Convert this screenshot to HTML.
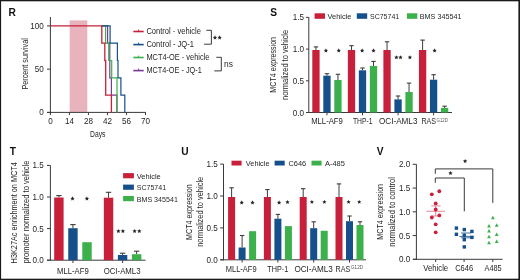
<!DOCTYPE html>
<html><head><meta charset="utf-8"><style>
html,body{margin:0;padding:0;background:#fff;width:520px;height:280px;overflow:hidden}
svg{display:block;will-change:transform}
text{font-family:"Liberation Sans",sans-serif}
</style></head><body>
<svg width="520" height="280" viewBox="0 0 520 280">
<rect width="520" height="280" fill="#fff"/>
<text x="8.6" y="16" font-size="10.2" fill="#111" text-anchor="start" font-weight="bold">R</text>
<rect x="69.70" y="20.40" width="17.60" height="92.00" fill="#e8b3bd"/>
<line x1="50.4" y1="17" x2="50.4" y2="112.9" stroke="#3a3a3a" stroke-width="1"/>
<line x1="47" y1="112.4" x2="145.9" y2="112.4" stroke="#3a3a3a" stroke-width="1"/>
<line x1="47" y1="112.4" x2="50.4" y2="112.4" stroke="#3a3a3a" stroke-width="1"/>
<text x="43.8" y="115.4" font-size="8.2" fill="#262626" text-anchor="end" textLength="4.51" lengthAdjust="spacingAndGlyphs">0</text>
<line x1="47" y1="69.15" x2="50.4" y2="69.15" stroke="#3a3a3a" stroke-width="1"/>
<text x="43.8" y="72.15" font-size="8.2" fill="#262626" text-anchor="end" textLength="9.02" lengthAdjust="spacingAndGlyphs">50</text>
<line x1="47" y1="25.900000000000006" x2="50.4" y2="25.900000000000006" stroke="#3a3a3a" stroke-width="1"/>
<text x="43.8" y="28.900000000000006" font-size="8.2" fill="#262626" text-anchor="end" textLength="13.53" lengthAdjust="spacingAndGlyphs">100</text>
<line x1="50.4" y1="112.4" x2="50.4" y2="115.1" stroke="#3a3a3a" stroke-width="1"/>
<text x="50.4" y="124.3" font-size="8.2" fill="#262626" text-anchor="middle" textLength="4.51" lengthAdjust="spacingAndGlyphs">0</text>
<line x1="69.42" y1="112.4" x2="69.42" y2="115.1" stroke="#3a3a3a" stroke-width="1"/>
<text x="69.42" y="124.3" font-size="8.2" fill="#262626" text-anchor="middle" textLength="9.02" lengthAdjust="spacingAndGlyphs">14</text>
<line x1="88.44" y1="112.4" x2="88.44" y2="115.1" stroke="#3a3a3a" stroke-width="1"/>
<text x="88.44" y="124.3" font-size="8.2" fill="#262626" text-anchor="middle" textLength="9.02" lengthAdjust="spacingAndGlyphs">28</text>
<line x1="107.46" y1="112.4" x2="107.46" y2="115.1" stroke="#3a3a3a" stroke-width="1"/>
<text x="107.46" y="124.3" font-size="8.2" fill="#262626" text-anchor="middle" textLength="9.02" lengthAdjust="spacingAndGlyphs">42</text>
<line x1="126.47999999999999" y1="112.4" x2="126.47999999999999" y2="115.1" stroke="#3a3a3a" stroke-width="1"/>
<text x="126.47999999999999" y="124.3" font-size="8.2" fill="#262626" text-anchor="middle" textLength="9.02" lengthAdjust="spacingAndGlyphs">56</text>
<line x1="145.5" y1="112.4" x2="145.5" y2="115.1" stroke="#3a3a3a" stroke-width="1"/>
<text x="145.5" y="124.3" font-size="8.2" fill="#262626" text-anchor="middle" textLength="9.02" lengthAdjust="spacingAndGlyphs">70</text>
<text x="97.8" y="137.4" font-size="8.9" fill="#262626" text-anchor="middle" textLength="15.4" lengthAdjust="spacingAndGlyphs">Days</text>
<text x="27.9" y="63.9" font-size="8.2" fill="#262626" text-anchor="middle" textLength="51.4" lengthAdjust="spacingAndGlyphs" transform="rotate(-90 27.9 63.9)">Percent survival</text>
<path d="M101.8,25.900000000000006 H107.6 V43.2 H109.8 V77.80000000000001 H111.4 V95.10000000000001 H116.9 V112.4" stroke="#7a3a96" stroke-width="1.2" fill="none"/>
<path d="M101.8,25.900000000000006 H105.6 V43.2 H108.7 V60.50000000000001 H111.7 V77.80000000000001 H117 V112.4" stroke="#3bb04b" stroke-width="1.2" fill="none"/>
<path d="M101.8,25.900000000000006 H110.1 V43.2 H117.4 V60.50000000000001 H118 V77.80000000000001 H120.9 V95.10000000000001 H124.8 V112.4" stroke="#15508a" stroke-width="1.2" fill="none"/>
<path d="M50.4,25.900000000000006 H101.8 V43.2 H104.8 V60.50000000000001 H105.7 V95.10000000000001 H111.4 V112.4" stroke="#c8203a" stroke-width="1.3" fill="none"/>
<line x1="133.3" y1="31.5" x2="143.7" y2="31.5" stroke="#c8203a" stroke-width="1.6"/>
<line x1="138.6" y1="29.6" x2="138.6" y2="31.5" stroke="#c8203a" stroke-width="1"/>
<text x="146.4" y="33.8" font-size="8.2" fill="#262626" text-anchor="start" textLength="54.5" lengthAdjust="spacingAndGlyphs">Control - vehicle</text>
<line x1="133.3" y1="44.6" x2="143.7" y2="44.6" stroke="#15508a" stroke-width="1.6"/>
<line x1="138.6" y1="42.7" x2="138.6" y2="44.6" stroke="#15508a" stroke-width="1"/>
<text x="146.4" y="46.9" font-size="8.2" fill="#262626" text-anchor="start" textLength="47.6" lengthAdjust="spacingAndGlyphs">Control - JQ-1</text>
<line x1="133.3" y1="57.5" x2="143.7" y2="57.5" stroke="#3bb04b" stroke-width="1.6"/>
<line x1="138.6" y1="55.6" x2="138.6" y2="57.5" stroke="#3bb04b" stroke-width="1"/>
<text x="146.4" y="59.8" font-size="8.2" fill="#262626" text-anchor="start" textLength="63" lengthAdjust="spacingAndGlyphs">MCT4-OE - vehicle</text>
<line x1="133.3" y1="70.6" x2="143.7" y2="70.6" stroke="#7a3a96" stroke-width="1.6"/>
<line x1="138.6" y1="68.69999999999999" x2="138.6" y2="70.6" stroke="#7a3a96" stroke-width="1"/>
<text x="146.4" y="72.89999999999999" font-size="8.2" fill="#262626" text-anchor="start" textLength="55.4" lengthAdjust="spacingAndGlyphs">MCT4-OE - JQ-1</text>
<path d="M206.4,30.3 H211.4 V44.2 H204.1" stroke="#3a3a3a" stroke-width="1" fill="none"/>
<polygon points="215.00,35.35 215.62,36.75 217.14,36.90 216.00,37.92 216.32,39.42 215.00,38.65 213.68,39.42 214.00,37.92 212.86,36.90 214.38,36.75" fill="#262626"/>
<polygon points="219.60,35.35 220.22,36.75 221.74,36.90 220.60,37.92 220.92,39.42 219.60,38.65 218.28,39.42 218.60,37.92 217.46,36.90 218.98,36.75" fill="#262626"/>
<path d="M216.3,57.3 H221.3 V70.9 H214.3" stroke="#3a3a3a" stroke-width="1" fill="none"/>
<text x="224" y="66.7" font-size="8.8" fill="#262626" text-anchor="start" textLength="8.9" lengthAdjust="spacingAndGlyphs">ns</text>
<text x="270.3" y="16" font-size="10.2" fill="#111" text-anchor="start" font-weight="bold">S</text>
<line x1="308.8" y1="17.1" x2="308.8" y2="113" stroke="#3a3a3a" stroke-width="1"/>
<line x1="306.2" y1="112.5" x2="452" y2="112.5" stroke="#3a3a3a" stroke-width="1"/>
<line x1="306" y1="112.5" x2="308.8" y2="112.5" stroke="#3a3a3a" stroke-width="1"/>
<text x="304.1" y="115.55" font-size="8.3" fill="#262626" text-anchor="end" textLength="11.29" lengthAdjust="spacingAndGlyphs">0.0</text>
<line x1="306" y1="80.8" x2="308.8" y2="80.8" stroke="#3a3a3a" stroke-width="1"/>
<text x="304.1" y="83.85" font-size="8.3" fill="#262626" text-anchor="end" textLength="11.29" lengthAdjust="spacingAndGlyphs">0.5</text>
<line x1="306" y1="49.1" x2="308.8" y2="49.1" stroke="#3a3a3a" stroke-width="1"/>
<text x="304.1" y="52.15" font-size="8.3" fill="#262626" text-anchor="end" textLength="11.29" lengthAdjust="spacingAndGlyphs">1.0</text>
<line x1="306" y1="17.400000000000006" x2="308.8" y2="17.400000000000006" stroke="#3a3a3a" stroke-width="1"/>
<text x="304.1" y="20.450000000000006" font-size="8.3" fill="#262626" text-anchor="end" textLength="11.29" lengthAdjust="spacingAndGlyphs">1.5</text>
<line x1="326.95" y1="112.5" x2="326.95" y2="115.3" stroke="#3a3a3a" stroke-width="1"/>
<line x1="315.95" y1="50" x2="315.95" y2="46.9" stroke="#3c3c3c" stroke-width="1"/>
<line x1="313.75" y1="46.9" x2="318.15" y2="46.9" stroke="#3c3c3c" stroke-width="1.1"/>
<rect x="312.30" y="50.00" width="7.30" height="62.50" fill="#c8203a"/>
<line x1="326.95" y1="75.7" x2="326.95" y2="73.7" stroke="#3c3c3c" stroke-width="1"/>
<line x1="324.75" y1="73.7" x2="329.15" y2="73.7" stroke="#3c3c3c" stroke-width="1.1"/>
<rect x="323.30" y="75.70" width="7.30" height="36.80" fill="#15508a"/>
<line x1="337.95" y1="80" x2="337.95" y2="74.3" stroke="#3c3c3c" stroke-width="1"/>
<line x1="335.75" y1="74.3" x2="340.15" y2="74.3" stroke="#3c3c3c" stroke-width="1.1"/>
<rect x="334.30" y="80.00" width="7.30" height="32.50" fill="#3bb04b"/>
<line x1="362.5" y1="112.5" x2="362.5" y2="115.3" stroke="#3a3a3a" stroke-width="1"/>
<line x1="351.5" y1="50" x2="351.5" y2="45.7" stroke="#3c3c3c" stroke-width="1"/>
<line x1="349.3" y1="45.7" x2="353.7" y2="45.7" stroke="#3c3c3c" stroke-width="1.1"/>
<rect x="347.85" y="50.00" width="7.30" height="62.50" fill="#c8203a"/>
<line x1="362.5" y1="70.3" x2="362.5" y2="68" stroke="#3c3c3c" stroke-width="1"/>
<line x1="360.3" y1="68" x2="364.7" y2="68" stroke="#3c3c3c" stroke-width="1.1"/>
<rect x="358.85" y="70.30" width="7.30" height="42.20" fill="#15508a"/>
<line x1="373.5" y1="66" x2="373.5" y2="61.4" stroke="#3c3c3c" stroke-width="1"/>
<line x1="371.3" y1="61.4" x2="375.7" y2="61.4" stroke="#3c3c3c" stroke-width="1.1"/>
<rect x="369.85" y="66.00" width="7.30" height="46.50" fill="#3bb04b"/>
<line x1="398.05" y1="112.5" x2="398.05" y2="115.3" stroke="#3a3a3a" stroke-width="1"/>
<line x1="387.05" y1="50" x2="387.05" y2="41.8" stroke="#3c3c3c" stroke-width="1"/>
<line x1="384.85" y1="41.8" x2="389.25" y2="41.8" stroke="#3c3c3c" stroke-width="1.1"/>
<rect x="383.40" y="50.00" width="7.30" height="62.50" fill="#c8203a"/>
<line x1="398.05" y1="99.4" x2="398.05" y2="96" stroke="#3c3c3c" stroke-width="1"/>
<line x1="395.85" y1="96" x2="400.25" y2="96" stroke="#3c3c3c" stroke-width="1.1"/>
<rect x="394.40" y="99.40" width="7.30" height="13.10" fill="#15508a"/>
<line x1="409.05" y1="92" x2="409.05" y2="83.1" stroke="#3c3c3c" stroke-width="1"/>
<line x1="406.85" y1="83.1" x2="411.25" y2="83.1" stroke="#3c3c3c" stroke-width="1.1"/>
<rect x="405.40" y="92.00" width="7.30" height="20.50" fill="#3bb04b"/>
<line x1="433.6" y1="112.5" x2="433.6" y2="115.3" stroke="#3a3a3a" stroke-width="1"/>
<line x1="422.6" y1="50" x2="422.6" y2="40.1" stroke="#3c3c3c" stroke-width="1"/>
<line x1="420.40000000000003" y1="40.1" x2="424.8" y2="40.1" stroke="#3c3c3c" stroke-width="1.1"/>
<rect x="418.95" y="50.00" width="7.30" height="62.50" fill="#c8203a"/>
<line x1="433.6" y1="79.7" x2="433.6" y2="74.7" stroke="#3c3c3c" stroke-width="1"/>
<line x1="431.40000000000003" y1="74.7" x2="435.8" y2="74.7" stroke="#3c3c3c" stroke-width="1.1"/>
<rect x="429.95" y="79.70" width="7.30" height="32.80" fill="#15508a"/>
<line x1="444.6" y1="107.9" x2="444.6" y2="106.2" stroke="#3c3c3c" stroke-width="1"/>
<line x1="442.40000000000003" y1="106.2" x2="446.8" y2="106.2" stroke="#3c3c3c" stroke-width="1.1"/>
<rect x="440.95" y="107.90" width="7.30" height="4.60" fill="#3bb04b"/>
<polygon points="325.90,48.35 326.52,49.75 328.04,49.90 326.90,50.92 327.22,52.42 325.90,51.65 324.58,52.42 324.90,50.92 323.76,49.90 325.28,49.75" fill="#262626"/>
<polygon points="338.75,48.35 339.37,49.75 340.89,49.90 339.75,50.92 340.07,52.42 338.75,51.65 337.43,52.42 337.75,50.92 336.61,49.90 338.13,49.75" fill="#262626"/>
<polygon points="362.15,48.35 362.77,49.75 364.29,49.90 363.15,50.92 363.47,52.42 362.15,51.65 360.83,52.42 361.15,50.92 360.01,49.90 361.53,49.75" fill="#262626"/>
<polygon points="373.50,48.35 374.12,49.75 375.64,49.90 374.50,50.92 374.82,52.42 373.50,51.65 372.18,52.42 372.50,50.92 371.36,49.90 372.88,49.75" fill="#262626"/>
<polygon points="396.40,55.15 397.02,56.55 398.54,56.70 397.40,57.72 397.72,59.22 396.40,58.45 395.08,59.22 395.40,57.72 394.26,56.70 395.78,56.55" fill="#262626"/>
<polygon points="400.50,55.15 401.12,56.55 402.64,56.70 401.50,57.72 401.82,59.22 400.50,58.45 399.18,59.22 399.50,57.72 398.36,56.70 399.88,56.55" fill="#262626"/>
<polygon points="409.90,55.15 410.52,56.55 412.04,56.70 410.90,57.72 411.22,59.22 409.90,58.45 408.58,59.22 408.90,57.72 407.76,56.70 409.28,56.55" fill="#262626"/>
<polygon points="434.60,48.35 435.22,49.75 436.74,49.90 435.60,50.92 435.92,52.42 434.60,51.65 433.28,52.42 433.60,50.92 432.46,49.90 433.98,49.75" fill="#262626"/>
<text x="327.0" y="124.4" font-size="8.2" fill="#262626" text-anchor="middle" textLength="31.7" lengthAdjust="spacingAndGlyphs">MLL-AF9</text>
<text x="362.7" y="124.4" font-size="8.2" fill="#262626" text-anchor="middle" textLength="19.5" lengthAdjust="spacingAndGlyphs">THP-1</text>
<text x="398.2" y="124.4" font-size="8.2" fill="#262626" text-anchor="middle" textLength="38.4" lengthAdjust="spacingAndGlyphs">OCI-AML3</text>
<text x="421.4" y="124.4" font-size="8.2" fill="#262626" text-anchor="start" textLength="14.6" lengthAdjust="spacingAndGlyphs">RAS</text>
<text x="436.6" y="121.8" font-size="4.9" fill="#555" text-anchor="start" textLength="11.3" lengthAdjust="spacingAndGlyphs">G12D</text>
<rect x="314.60" y="13.30" width="10.40" height="5.50" fill="#c8203a"/>
<text x="327.5" y="19.1" font-size="8.0" fill="#262626" text-anchor="start" textLength="24" lengthAdjust="spacingAndGlyphs">Vehicle</text>
<rect x="356.80" y="13.30" width="10.40" height="5.50" fill="#15508a"/>
<text x="370" y="19.1" font-size="8.0" fill="#262626" text-anchor="start" textLength="29.2" lengthAdjust="spacingAndGlyphs">SC75741</text>
<rect x="406.90" y="13.30" width="10.40" height="5.50" fill="#3bb04b"/>
<text x="419.8" y="19.1" font-size="8.0" fill="#262626" text-anchor="start" textLength="41.6" lengthAdjust="spacingAndGlyphs">BMS 345541</text>
<text x="276.1" y="64.8" font-size="8.5" fill="#262626" text-anchor="middle" textLength="55.7" lengthAdjust="spacingAndGlyphs" transform="rotate(-90 276.1 64.8)">MCT4 expression</text>
<text x="287.6" y="64.9" font-size="8.5" fill="#262626" text-anchor="middle" textLength="70.2" lengthAdjust="spacingAndGlyphs" transform="rotate(-90 287.6 64.9)">normalized to vehicle</text>
<text x="9.8" y="154.6" font-size="10.2" fill="#111" text-anchor="start" font-weight="bold">T</text>
<line x1="50.4" y1="165.4" x2="50.4" y2="260.7" stroke="#3a3a3a" stroke-width="1"/>
<line x1="47" y1="260.2" x2="145.5" y2="260.2" stroke="#3a3a3a" stroke-width="1"/>
<line x1="47" y1="260.2" x2="50.4" y2="260.2" stroke="#3a3a3a" stroke-width="1"/>
<text x="43.9" y="263.25" font-size="8.3" fill="#262626" text-anchor="end" textLength="11.29" lengthAdjust="spacingAndGlyphs">0.0</text>
<line x1="47" y1="228.6" x2="50.4" y2="228.6" stroke="#3a3a3a" stroke-width="1"/>
<text x="43.9" y="231.65" font-size="8.3" fill="#262626" text-anchor="end" textLength="11.29" lengthAdjust="spacingAndGlyphs">0.5</text>
<line x1="47" y1="197.0" x2="50.4" y2="197.0" stroke="#3a3a3a" stroke-width="1"/>
<text x="43.9" y="200.05" font-size="8.3" fill="#262626" text-anchor="end" textLength="11.29" lengthAdjust="spacingAndGlyphs">1.0</text>
<line x1="47" y1="165.39999999999998" x2="50.4" y2="165.39999999999998" stroke="#3a3a3a" stroke-width="1"/>
<text x="43.9" y="168.45" font-size="8.3" fill="#262626" text-anchor="end" textLength="11.29" lengthAdjust="spacingAndGlyphs">1.5</text>
<line x1="72.95" y1="260.2" x2="72.95" y2="263" stroke="#3a3a3a" stroke-width="1"/>
<line x1="58.900000000000006" y1="197.5" x2="58.900000000000006" y2="195.6" stroke="#3c3c3c" stroke-width="1"/>
<line x1="56.2" y1="195.6" x2="61.60000000000001" y2="195.6" stroke="#3c3c3c" stroke-width="1.1"/>
<rect x="54.20" y="197.50" width="9.40" height="62.70" fill="#c8203a"/>
<line x1="72.95" y1="228.2" x2="72.95" y2="224.6" stroke="#3c3c3c" stroke-width="1"/>
<line x1="70.25" y1="224.6" x2="75.65" y2="224.6" stroke="#3c3c3c" stroke-width="1.1"/>
<rect x="68.25" y="228.20" width="9.40" height="32.00" fill="#15508a"/>
<rect x="82.30" y="242.20" width="9.40" height="18.00" fill="#3bb04b"/>
<line x1="122.6" y1="260.2" x2="122.6" y2="263" stroke="#3a3a3a" stroke-width="1"/>
<line x1="108.55" y1="197.7" x2="108.55" y2="192.3" stroke="#3c3c3c" stroke-width="1"/>
<line x1="105.85" y1="192.3" x2="111.25" y2="192.3" stroke="#3c3c3c" stroke-width="1.1"/>
<rect x="103.85" y="197.70" width="9.40" height="62.50" fill="#c8203a"/>
<line x1="122.6" y1="255" x2="122.6" y2="253.2" stroke="#3c3c3c" stroke-width="1"/>
<line x1="119.89999999999999" y1="253.2" x2="125.3" y2="253.2" stroke="#3c3c3c" stroke-width="1.1"/>
<rect x="117.90" y="255.00" width="9.40" height="5.20" fill="#15508a"/>
<line x1="136.65" y1="254.2" x2="136.65" y2="251.2" stroke="#3c3c3c" stroke-width="1"/>
<line x1="133.95000000000002" y1="251.2" x2="139.35" y2="251.2" stroke="#3c3c3c" stroke-width="1.1"/>
<rect x="131.95" y="254.20" width="9.40" height="6.00" fill="#3bb04b"/>
<polygon points="72.50,196.35 73.12,197.75 74.64,197.90 73.50,198.92 73.82,200.42 72.50,199.65 71.18,200.42 71.50,198.92 70.36,197.90 71.88,197.75" fill="#262626"/>
<polygon points="86.90,196.35 87.52,197.75 89.04,197.90 87.90,198.92 88.22,200.42 86.90,199.65 85.58,200.42 85.90,198.92 84.76,197.90 86.28,197.75" fill="#262626"/>
<polygon points="118.40,228.95 119.02,230.35 120.54,230.50 119.40,231.52 119.72,233.02 118.40,232.25 117.08,233.02 117.40,231.52 116.26,230.50 117.78,230.35" fill="#262626"/>
<polygon points="122.90,228.95 123.52,230.35 125.04,230.50 123.90,231.52 124.22,233.02 122.90,232.25 121.58,233.02 121.90,231.52 120.76,230.50 122.28,230.35" fill="#262626"/>
<polygon points="134.60,228.95 135.22,230.35 136.74,230.50 135.60,231.52 135.92,233.02 134.60,232.25 133.28,233.02 133.60,231.52 132.46,230.50 133.98,230.35" fill="#262626"/>
<polygon points="139.30,228.95 139.92,230.35 141.44,230.50 140.30,231.52 140.62,233.02 139.30,232.25 137.98,233.02 138.30,231.52 137.16,230.50 138.68,230.35" fill="#262626"/>
<text x="72.9" y="274.1" font-size="8.2" fill="#262626" text-anchor="middle" textLength="31.7" lengthAdjust="spacingAndGlyphs">MLL-AF9</text>
<text x="122.1" y="274.1" font-size="8.2" fill="#262626" text-anchor="middle" textLength="36.8" lengthAdjust="spacingAndGlyphs">OCI-AML3</text>
<rect x="123.10" y="173.10" width="10.80" height="5.20" fill="#c8203a"/>
<text x="136.7" y="178.6" font-size="8.0" fill="#262626" text-anchor="start" textLength="24" lengthAdjust="spacingAndGlyphs">Vehicle</text>
<rect x="123.10" y="184.60" width="10.80" height="5.20" fill="#15508a"/>
<text x="136.7" y="190.1" font-size="8.0" fill="#262626" text-anchor="start" textLength="29.4" lengthAdjust="spacingAndGlyphs">SC75741</text>
<rect x="123.10" y="196.00" width="10.80" height="5.20" fill="#3bb04b"/>
<text x="136.7" y="201.5" font-size="8.0" fill="#262626" text-anchor="start" textLength="41.2" lengthAdjust="spacingAndGlyphs">BMS 345541</text>
<text x="16.8" y="212.75" font-size="8.5" fill="#262626" text-anchor="middle" textLength="101.3" lengthAdjust="spacingAndGlyphs" transform="rotate(-90 16.8 212.75)">H3K27Ac enrichment on MCT4</text>
<text x="28.8" y="212.1" font-size="8.5" fill="#262626" text-anchor="middle" textLength="103" lengthAdjust="spacingAndGlyphs" transform="rotate(-90 28.8 212.1)">promoter normalized to vehicle</text>
<text x="181.2" y="155" font-size="10.2" fill="#111" text-anchor="start" font-weight="bold">U</text>
<line x1="223.5" y1="164.1" x2="223.5" y2="260.3" stroke="#3a3a3a" stroke-width="1"/>
<line x1="220.3" y1="259.8" x2="366" y2="259.8" stroke="#3a3a3a" stroke-width="1"/>
<line x1="220.1" y1="259.8" x2="223.5" y2="259.8" stroke="#3a3a3a" stroke-width="1"/>
<text x="217.9" y="262.85" font-size="8.3" fill="#262626" text-anchor="end" textLength="11.29" lengthAdjust="spacingAndGlyphs">0.0</text>
<line x1="220.1" y1="227.9" x2="223.5" y2="227.9" stroke="#3a3a3a" stroke-width="1"/>
<text x="217.9" y="230.95000000000002" font-size="8.3" fill="#262626" text-anchor="end" textLength="11.29" lengthAdjust="spacingAndGlyphs">0.5</text>
<line x1="220.1" y1="196.0" x2="223.5" y2="196.0" stroke="#3a3a3a" stroke-width="1"/>
<text x="217.9" y="199.05" font-size="8.3" fill="#262626" text-anchor="end" textLength="11.29" lengthAdjust="spacingAndGlyphs">1.0</text>
<line x1="220.1" y1="164.10000000000002" x2="223.5" y2="164.10000000000002" stroke="#3a3a3a" stroke-width="1"/>
<text x="217.9" y="167.15000000000003" font-size="8.3" fill="#262626" text-anchor="end" textLength="11.29" lengthAdjust="spacingAndGlyphs">1.5</text>
<line x1="242.1" y1="259.8" x2="242.1" y2="262.5" stroke="#3a3a3a" stroke-width="1"/>
<line x1="231.6" y1="197" x2="231.6" y2="187.8" stroke="#3c3c3c" stroke-width="1"/>
<line x1="229.4" y1="187.8" x2="233.79999999999998" y2="187.8" stroke="#3c3c3c" stroke-width="1.1"/>
<rect x="228.10" y="197.00" width="7.00" height="62.80" fill="#c8203a"/>
<line x1="242.1" y1="247.5" x2="242.1" y2="235.5" stroke="#3c3c3c" stroke-width="1"/>
<line x1="239.9" y1="235.5" x2="244.29999999999998" y2="235.5" stroke="#3c3c3c" stroke-width="1.1"/>
<rect x="238.60" y="247.50" width="7.00" height="12.30" fill="#15508a"/>
<rect x="249.10" y="231.20" width="7.00" height="28.60" fill="#3bb04b"/>
<line x1="277.9" y1="259.8" x2="277.9" y2="262.5" stroke="#3a3a3a" stroke-width="1"/>
<line x1="267.4" y1="197" x2="267.4" y2="189.6" stroke="#3c3c3c" stroke-width="1"/>
<line x1="265.2" y1="189.6" x2="269.59999999999997" y2="189.6" stroke="#3c3c3c" stroke-width="1.1"/>
<rect x="263.90" y="197.00" width="7.00" height="62.80" fill="#c8203a"/>
<line x1="277.9" y1="218.7" x2="277.9" y2="214.4" stroke="#3c3c3c" stroke-width="1"/>
<line x1="275.7" y1="214.4" x2="280.09999999999997" y2="214.4" stroke="#3c3c3c" stroke-width="1.1"/>
<rect x="274.40" y="218.70" width="7.00" height="41.10" fill="#15508a"/>
<rect x="284.90" y="226.10" width="7.00" height="33.70" fill="#3bb04b"/>
<line x1="313.7" y1="259.8" x2="313.7" y2="262.5" stroke="#3a3a3a" stroke-width="1"/>
<line x1="303.2" y1="197" x2="303.2" y2="188.7" stroke="#3c3c3c" stroke-width="1"/>
<line x1="301.0" y1="188.7" x2="305.4" y2="188.7" stroke="#3c3c3c" stroke-width="1.1"/>
<rect x="299.70" y="197.00" width="7.00" height="62.80" fill="#c8203a"/>
<line x1="313.7" y1="228.2" x2="313.7" y2="221.8" stroke="#3c3c3c" stroke-width="1"/>
<line x1="311.5" y1="221.8" x2="315.9" y2="221.8" stroke="#3c3c3c" stroke-width="1.1"/>
<rect x="310.20" y="228.20" width="7.00" height="31.60" fill="#15508a"/>
<rect x="320.70" y="230.80" width="7.00" height="29.00" fill="#3bb04b"/>
<line x1="349.5" y1="259.8" x2="349.5" y2="262.5" stroke="#3a3a3a" stroke-width="1"/>
<line x1="339.0" y1="197" x2="339.0" y2="183.9" stroke="#3c3c3c" stroke-width="1"/>
<line x1="336.8" y1="183.9" x2="341.2" y2="183.9" stroke="#3c3c3c" stroke-width="1.1"/>
<rect x="335.50" y="197.00" width="7.00" height="62.80" fill="#c8203a"/>
<line x1="349.5" y1="221.2" x2="349.5" y2="216" stroke="#3c3c3c" stroke-width="1"/>
<line x1="347.3" y1="216" x2="351.7" y2="216" stroke="#3c3c3c" stroke-width="1.1"/>
<rect x="346.00" y="221.20" width="7.00" height="38.60" fill="#15508a"/>
<line x1="360.0" y1="225" x2="360.0" y2="221.8" stroke="#3c3c3c" stroke-width="1"/>
<line x1="357.8" y1="221.8" x2="362.2" y2="221.8" stroke="#3c3c3c" stroke-width="1.1"/>
<rect x="356.50" y="225.00" width="7.00" height="34.80" fill="#3bb04b"/>
<polygon points="241.70,200.35 242.32,201.75 243.84,201.90 242.70,202.92 243.02,204.42 241.70,203.65 240.38,204.42 240.70,202.92 239.56,201.90 241.08,201.75" fill="#262626"/>
<polygon points="252.50,200.35 253.12,201.75 254.64,201.90 253.50,202.92 253.82,204.42 252.50,203.65 251.18,204.42 251.50,202.92 250.36,201.90 251.88,201.75" fill="#262626"/>
<polygon points="279.10,200.35 279.72,201.75 281.24,201.90 280.10,202.92 280.42,204.42 279.10,203.65 277.78,204.42 278.10,202.92 276.96,201.90 278.48,201.75" fill="#262626"/>
<polygon points="287.50,199.95 288.12,201.35 289.64,201.50 288.50,202.52 288.82,204.02 287.50,203.25 286.18,204.02 286.50,202.52 285.36,201.50 286.88,201.35" fill="#262626"/>
<polygon points="311.90,199.75 312.52,201.15 314.04,201.30 312.90,202.32 313.22,203.82 311.90,203.05 310.58,203.82 310.90,202.32 309.76,201.30 311.28,201.15" fill="#262626"/>
<polygon points="324.40,199.75 325.02,201.15 326.54,201.30 325.40,202.32 325.72,203.82 324.40,203.05 323.08,203.82 323.40,202.32 322.26,201.30 323.78,201.15" fill="#262626"/>
<polygon points="348.60,199.75 349.22,201.15 350.74,201.30 349.60,202.32 349.92,203.82 348.60,203.05 347.28,203.82 347.60,202.32 346.46,201.30 347.98,201.15" fill="#262626"/>
<polygon points="359.20,199.75 359.82,201.15 361.34,201.30 360.20,202.32 360.52,203.82 359.20,203.05 357.88,203.82 358.20,202.32 357.06,201.30 358.58,201.15" fill="#262626"/>
<text x="241.2" y="272.1" font-size="8.2" fill="#262626" text-anchor="middle" textLength="30.7" lengthAdjust="spacingAndGlyphs">MLL-AF9</text>
<text x="277.8" y="272.1" font-size="8.2" fill="#262626" text-anchor="middle" textLength="20.9" lengthAdjust="spacingAndGlyphs">THP-1</text>
<text x="313.6" y="272.1" font-size="8.2" fill="#262626" text-anchor="middle" textLength="38.4" lengthAdjust="spacingAndGlyphs">OCI-AML3</text>
<text x="335.6" y="272.1" font-size="8.2" fill="#262626" text-anchor="start" textLength="14.8" lengthAdjust="spacingAndGlyphs">RAS</text>
<text x="351.0" y="269.3" font-size="4.9" fill="#555" text-anchor="start" textLength="12" lengthAdjust="spacingAndGlyphs">G12D</text>
<rect x="231.50" y="160.70" width="10.10" height="4.80" fill="#c8203a"/>
<text x="245.8" y="166" font-size="8.0" fill="#262626" text-anchor="start" textLength="23.7" lengthAdjust="spacingAndGlyphs">Vehicle</text>
<rect x="274.60" y="160.70" width="10.10" height="4.80" fill="#15508a"/>
<text x="288.5" y="166" font-size="8.0" fill="#262626" text-anchor="start" textLength="17.7" lengthAdjust="spacingAndGlyphs">C646</text>
<rect x="311.50" y="160.70" width="10.10" height="4.80" fill="#3bb04b"/>
<text x="325" y="166" font-size="8.0" fill="#262626" text-anchor="start" textLength="19.9" lengthAdjust="spacingAndGlyphs">A-485</text>
<text x="191.8" y="212.1" font-size="8.5" fill="#262626" text-anchor="middle" textLength="55.6" lengthAdjust="spacingAndGlyphs" transform="rotate(-90 191.8 212.1)">MCT4 expression</text>
<text x="202.9" y="211.8" font-size="8.5" fill="#262626" text-anchor="middle" textLength="70" lengthAdjust="spacingAndGlyphs" transform="rotate(-90 202.9 211.8)">normalized to vehicle</text>
<text x="376.8" y="154.6" font-size="10.2" fill="#111" text-anchor="start" font-weight="bold">V</text>
<line x1="416.4" y1="164.3" x2="416.4" y2="259.8" stroke="#3a3a3a" stroke-width="1"/>
<line x1="413" y1="259.3" x2="502.6" y2="259.3" stroke="#3a3a3a" stroke-width="1"/>
<line x1="412.7" y1="259.3" x2="416.4" y2="259.3" stroke="#3a3a3a" stroke-width="1"/>
<text x="410.3" y="262.35" font-size="8.3" fill="#262626" text-anchor="end" textLength="11.29" lengthAdjust="spacingAndGlyphs">0.0</text>
<line x1="412.7" y1="235.55" x2="416.4" y2="235.55" stroke="#3a3a3a" stroke-width="1"/>
<text x="410.3" y="238.60000000000002" font-size="8.3" fill="#262626" text-anchor="end" textLength="11.29" lengthAdjust="spacingAndGlyphs">0.5</text>
<line x1="412.7" y1="211.8" x2="416.4" y2="211.8" stroke="#3a3a3a" stroke-width="1"/>
<text x="410.3" y="214.85000000000002" font-size="8.3" fill="#262626" text-anchor="end" textLength="11.29" lengthAdjust="spacingAndGlyphs">1.0</text>
<line x1="412.7" y1="188.05" x2="416.4" y2="188.05" stroke="#3a3a3a" stroke-width="1"/>
<text x="410.3" y="191.10000000000002" font-size="8.3" fill="#262626" text-anchor="end" textLength="11.29" lengthAdjust="spacingAndGlyphs">1.5</text>
<line x1="412.7" y1="164.3" x2="416.4" y2="164.3" stroke="#3a3a3a" stroke-width="1"/>
<text x="410.3" y="167.35000000000002" font-size="8.3" fill="#262626" text-anchor="end" textLength="11.29" lengthAdjust="spacingAndGlyphs">2.0</text>
<line x1="435.7" y1="259.3" x2="435.7" y2="262" stroke="#3a3a3a" stroke-width="1"/>
<line x1="464.1" y1="259.3" x2="464.1" y2="262" stroke="#3a3a3a" stroke-width="1"/>
<line x1="492.8" y1="259.3" x2="492.8" y2="262" stroke="#3a3a3a" stroke-width="1"/>
<text x="435.7" y="271.0" font-size="8.2" fill="#262626" text-anchor="middle" textLength="25" lengthAdjust="spacingAndGlyphs">Vehicle</text>
<text x="464.2" y="271.0" font-size="8.2" fill="#262626" text-anchor="middle" textLength="18" lengthAdjust="spacingAndGlyphs">C646</text>
<text x="493.1" y="271.0" font-size="8.2" fill="#262626" text-anchor="middle" textLength="17.2" lengthAdjust="spacingAndGlyphs">A485</text>
<text x="383.3" y="211.8" font-size="8.5" fill="#262626" text-anchor="middle" textLength="55.7" lengthAdjust="spacingAndGlyphs" transform="rotate(-90 383.3 211.8)">MCT4 expression</text>
<text x="395" y="211.9" font-size="8.5" fill="#262626" text-anchor="middle" textLength="69.7" lengthAdjust="spacingAndGlyphs" transform="rotate(-90 395 211.9)">normalized to control</text>
<path d="M435.3,173.8 V168.9 H492.8 V202.9" stroke="#3a3a3a" stroke-width="1" fill="none"/>
<path d="M435.3,182.8 V178 H464.3 V211.4" stroke="#3a3a3a" stroke-width="1" fill="none"/>
<polygon points="465.10,158.95 465.72,160.35 467.24,160.50 466.10,161.52 466.42,163.02 465.10,162.25 463.78,163.02 464.10,161.52 462.96,160.50 464.48,160.35" fill="#262626"/>
<polygon points="450.50,170.95 451.12,172.35 452.64,172.50 451.50,173.52 451.82,175.02 450.50,174.25 449.18,175.02 449.50,173.52 448.36,172.50 449.88,172.35" fill="#262626"/>
<line x1="426.4" y1="211.25" x2="445" y2="211.25" stroke="#e07a8a" stroke-width="0.9"/>
<line x1="431.3" y1="205.9" x2="440.7" y2="205.9" stroke="#e07a8a" stroke-width="0.9"/>
<line x1="435.7" y1="205.9" x2="435.7" y2="216" stroke="#e07a8a" stroke-width="0.9"/>
<line x1="431.3" y1="216" x2="440.7" y2="216" stroke="#e07a8a" stroke-width="0.9"/>
<circle cx="431.8" cy="194.3" r="1.9" fill="#c8203a"/>
<circle cx="439.3" cy="191.25" r="1.9" fill="#c8203a"/>
<circle cx="435.7" cy="203.4" r="1.9" fill="#c8203a"/>
<circle cx="435.7" cy="209.5" r="1.9" fill="#c8203a"/>
<circle cx="431.8" cy="217.5" r="1.9" fill="#c8203a"/>
<circle cx="439.3" cy="215.4" r="1.9" fill="#c8203a"/>
<circle cx="435.7" cy="224.3" r="1.9" fill="#c8203a"/>
<circle cx="435.7" cy="232.3" r="1.9" fill="#c8203a"/>
<line x1="459.3" y1="236.4" x2="473.6" y2="236.4" stroke="#2f639a" stroke-width="0.9"/>
<line x1="461" y1="233" x2="471" y2="233" stroke="#2f639a" stroke-width="0.9"/>
<line x1="461" y1="237.8" x2="471" y2="237.8" stroke="#2f639a" stroke-width="0.9"/>
<line x1="464.3" y1="233" x2="464.3" y2="237.8" stroke="#2f639a" stroke-width="0.9"/>
<rect x="454.70" y="226.40" width="3.40" height="3.40" fill="#15508a"/>
<rect x="462.60" y="227.90" width="3.40" height="3.40" fill="#15508a"/>
<rect x="470.20" y="229.70" width="3.40" height="3.40" fill="#15508a"/>
<rect x="454.70" y="232.60" width="3.40" height="3.40" fill="#15508a"/>
<rect x="462.60" y="233.70" width="3.40" height="3.40" fill="#15508a"/>
<rect x="470.20" y="235.70" width="3.40" height="3.40" fill="#15508a"/>
<rect x="462.60" y="238.00" width="3.40" height="3.40" fill="#15508a"/>
<rect x="462.60" y="245.20" width="3.40" height="3.40" fill="#15508a"/>
<path d="M492.9,215.8 L494.79999999999995,219.3 L491.0,219.3 Z" fill="#3bb04b"/>
<path d="M489,223.9 L490.9,227.4 L487.1,227.4 Z" fill="#3bb04b"/>
<path d="M496.7,223.3 L498.59999999999997,226.8 L494.8,226.8 Z" fill="#3bb04b"/>
<path d="M489,229.0 L490.9,232.5 L487.1,232.5 Z" fill="#3bb04b"/>
<path d="M496.7,232.5 L498.59999999999997,236.0 L494.8,236.0 Z" fill="#3bb04b"/>
<path d="M489,234.8 L490.9,238.3 L487.1,238.3 Z" fill="#3bb04b"/>
<path d="M489,240.8 L490.9,244.3 L487.1,244.3 Z" fill="#3bb04b"/>
<path d="M496.7,239.6 L498.59999999999997,243.1 L494.8,243.1 Z" fill="#3bb04b"/>
<rect x="0" y="0" width="520" height="1.3" fill="#1a1a1a"/>
<rect x="0" y="0" width="1.1" height="280" fill="#1a1a1a"/>
<rect x="518.4" y="0" width="1.6" height="280" fill="#1a1a1a"/>
<rect x="0" y="278.7" width="520" height="1.3" fill="#1a1a1a"/>
</svg>
</body></html>
